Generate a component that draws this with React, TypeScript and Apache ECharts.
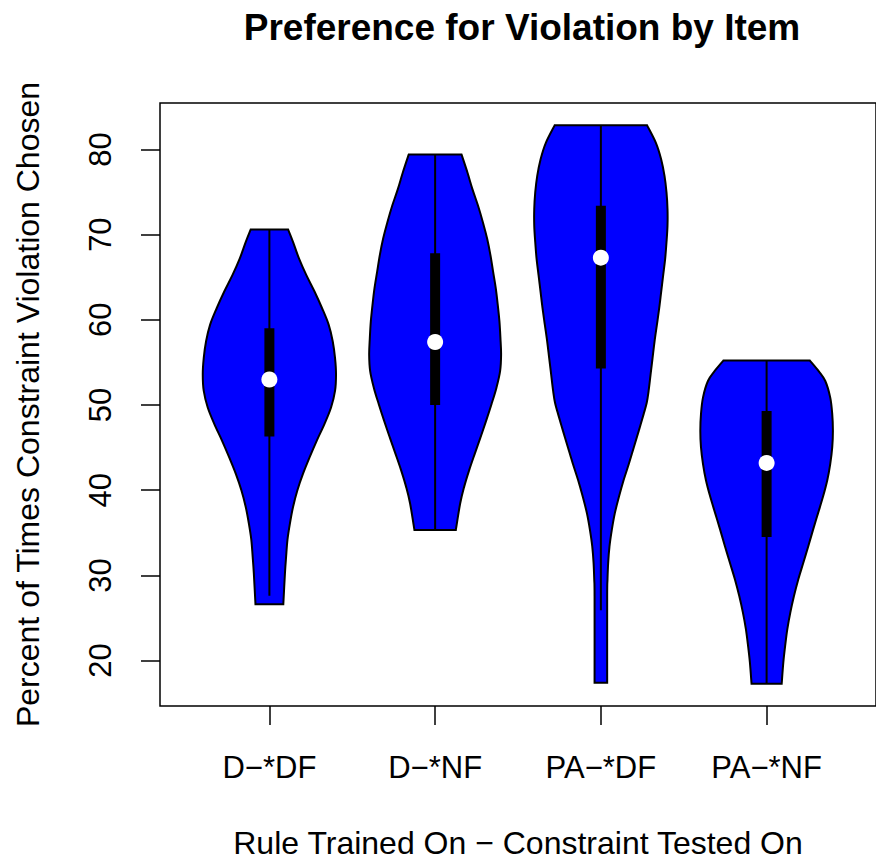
import React, { useEffect, useRef } from "react";
import * as echarts from "echarts";

const categories = ["D−*DF", "D−*NF", "PA−*DF", "PA−*NF"];
const positions = [1, 2, 3, 4];
const yTicks = [20, 30, 40, 50, 60, 70, 80];

// violin outlines, top to bottom: value (percent) and half width (category units)
const violin1Values = [70.6, 69.13, 67.18, 65.24, 63.3, 61.36, 59.41, 57.48, 55.53, 53.59, 51.65, 49.71, 47.76, 45.83, 43.88, 41.94, 40.0, 38.06, 36.11, 34.18, 32.23, 30.29, 26.6];
const violin1Widths = [0.113, 0.143, 0.179, 0.223, 0.273, 0.318, 0.358, 0.382, 0.396, 0.402, 0.396, 0.372, 0.332, 0.286, 0.243, 0.203, 0.169, 0.143, 0.124, 0.109, 0.101, 0.094, 0.084];
const violin2Values = [79.42, 77.29, 75.34, 73.39, 71.46, 69.51, 67.57, 65.63, 63.69, 61.74, 59.81, 57.86, 55.92, 53.98, 52.04, 50.09, 48.16, 46.21, 44.27, 42.33, 40.39, 38.44, 35.34];
const violin2Widths = [0.159, 0.195, 0.225, 0.259, 0.288, 0.314, 0.334, 0.35, 0.366, 0.378, 0.388, 0.394, 0.398, 0.392, 0.37, 0.34, 0.308, 0.274, 0.239, 0.205, 0.175, 0.151, 0.125];
const violin3Values = [82.83, 80.78, 78.83, 76.89, 74.95, 73.01, 71.06, 69.13, 67.18, 65.24, 63.3, 61.36, 59.41, 57.48, 55.53, 53.59, 51.65, 50.3, 48.93, 46.99, 45.05, 43.1, 41.17, 39.22, 37.28, 35.34, 33.4, 31.45, 29.52, 27.57, 17.4];
const violin3Widths = [0.279, 0.332, 0.364, 0.384, 0.396, 0.402, 0.402, 0.396, 0.388, 0.376, 0.364, 0.352, 0.338, 0.324, 0.312, 0.3, 0.288, 0.277, 0.258, 0.229, 0.199, 0.169, 0.137, 0.109, 0.084, 0.066, 0.052, 0.044, 0.04, 0.038, 0.038];
const violin4Values = [55.22, 53.98, 52.82, 50.87, 48.93, 46.99, 45.05, 43.1, 41.17, 39.22, 37.28, 35.34, 33.4, 31.45, 29.52, 27.57, 25.63, 23.69, 21.75, 19.81, 17.29];
const violin4Widths = [0.261, 0.314, 0.354, 0.384, 0.396, 0.4, 0.396, 0.384, 0.366, 0.34, 0.31, 0.28, 0.251, 0.221, 0.191, 0.165, 0.143, 0.125, 0.112, 0.101, 0.091];

const whiskerLow = [27.6, 35.3, 25.9, 17.3];
const whiskerHigh = [70.6, 79.4, 82.8, 55.2];
const q1 = [46.3, 50.0, 54.3, 34.5];
const q3 = [59.0, 67.8, 73.4, 49.3];
const medians = [53.0, 57.4, 67.3, 43.2];

const violinValues = [violin1Values, violin2Values, violin3Values, violin4Values];
const violinWidths = [violin1Widths, violin2Widths, violin3Widths, violin4Widths];

const FONT = "'Liberation Sans', Arial, Helvetica, sans-serif";

function catmull(pts: number[][]): string {
  let s = "";
  for (let k = 0; k < pts.length - 1; k++) {
    const p0 = pts[k - 1] || pts[k];
    const p1 = pts[k];
    const p2 = pts[k + 1];
    const p3 = pts[k + 2] || p2;
    const c1x = p1[0] + (p2[0] - p0[0]) / 6;
    const c1y = p1[1] + (p2[1] - p0[1]) / 6;
    const c2x = p2[0] - (p3[0] - p1[0]) / 6;
    const c2y = p2[1] - (p3[1] - p1[1]) / 6;
    s += ` C${c1x},${c1y} ${c2x},${c2y} ${p2[0]},${p2[1]}`;
  }
  return s;
}

export default function App() {
  const ref = useRef<HTMLDivElement>(null);
  useEffect(() => {
    if (!ref.current) return;
    const chart = echarts.init(ref.current, null, { renderer: "svg" });
    const allVals = violinValues.flat();
    const dmin = Math.min(...allVals);
    const dmax = Math.max(...allVals);
    const r = dmax - dmin;
    const yMin = dmin - 0.04 * r;
    const yMax = dmax + 0.04 * r;
    const xMin = 0.5 - 0.04 * 4;
    const xMax = 4.5 + 0.04 * 4;

    chart.setOption({
      animation: false,
      backgroundColor: "#fff",
      graphic: [
        {
          type: "text",
          x: 522,
          y: 27,
          style: {
            text: "Preference for Violation by Item",
            fontFamily: FONT,
            fontSize: 37,
            fontWeight: "bold",
            fill: "#000",
            align: "center",
            verticalAlign: "middle",
          },
        },
      ],
      grid: {
        show: true,
        left: 160,
        top: 103,
        width: 724,
        height: 607,
        borderColor: "#000",
        borderWidth: 1.5,
        backgroundColor: "transparent",
      },
      xAxis: {
        type: "value",
        min: xMin,
        max: xMax,
        axisLine: { show: false },
        splitLine: { show: false },
        axisTick: {
          show: true,
          length: 19,
          customValues: positions,
          lineStyle: { color: "#000", width: 1.5 },
        },
        axisLabel: {
          customValues: positions,
          formatter: (v: number) => categories[Math.round(v) - 1] ?? "",
          fontFamily: FONT,
          fontSize: 31,
          color: "#000",
          margin: 46,
        },
        name: "Rule Trained On − Constraint Tested On",
        nameLocation: "middle",
        nameGap: 121,
        nameTextStyle: { fontFamily: FONT, fontSize: 32, color: "#000" },
      },
      yAxis: {
        type: "value",
        min: yMin,
        max: yMax,
        axisLine: { show: false },
        splitLine: { show: false },
        axisTick: {
          show: true,
          length: 19,
          customValues: yTicks,
          lineStyle: { color: "#000", width: 1.5 },
        },
        axisLabel: {
          customValues: yTicks,
          rotate: 90,
          fontFamily: FONT,
          fontSize: 31,
          color: "#000",
          margin: 44,
        },
        name: "Percent of Times Constraint Violation Chosen",
        nameLocation: "middle",
        nameRotate: 90,
        nameGap: 116,
        nameTextStyle: { fontFamily: FONT, fontSize: 32, color: "#000" },
      },
      series: [
        {
          type: "custom",
          data: positions.map((p, i) => [p, medians[i]]),
          renderItem: (params: any, api: any) => {
            const i = params.dataIndex;
            const pos = positions[i];
            const vals = violinValues[i];
            const wid = violinWidths[i];
            const left = vals.map((v, k) => api.coord([pos - wid[k], v]));
            const right = vals.map((v, k) => api.coord([pos + wid[k], v])).reverse();
            const d =
              `M${left[0][0]},${left[0][1]}` +
              catmull(left) +
              ` L${right[0][0]},${right[0][1]}` +
              catmull(right) +
              " Z";
            const wTop = api.coord([pos, whiskerHigh[i]]);
            const wBot = api.coord([pos, whiskerLow[i]]);
            const bTop = api.coord([pos, q3[i]]);
            const bBot = api.coord([pos, q1[i]]);
            const med = api.coord([pos, medians[i]]);
            return {
              type: "group",
              children: [
                {
                  type: "path",
                  shape: { pathData: d },
                  style: { fill: "#0000FF", stroke: "#000", lineWidth: 2 },
                },
                {
                  type: "line",
                  shape: { x1: wTop[0], y1: wTop[1], x2: wBot[0], y2: wBot[1] },
                  style: { stroke: "#000", lineWidth: 2 },
                },
                {
                  type: "rect",
                  shape: { x: bTop[0] - 5, y: bTop[1], width: 10, height: bBot[1] - bTop[1] },
                  style: { fill: "#000" },
                },
                {
                  type: "circle",
                  shape: { cx: med[0], cy: med[1], r: 8 },
                  style: { fill: "#fff" },
                },
              ],
            };
          },
        },
      ],
    });
    return () => chart.dispose();
  }, []);
  return (
    <div
      ref={ref}
      style={{ position: "absolute", left: 0, top: 0, width: 876, height: 864 }}
    />
  );
}
